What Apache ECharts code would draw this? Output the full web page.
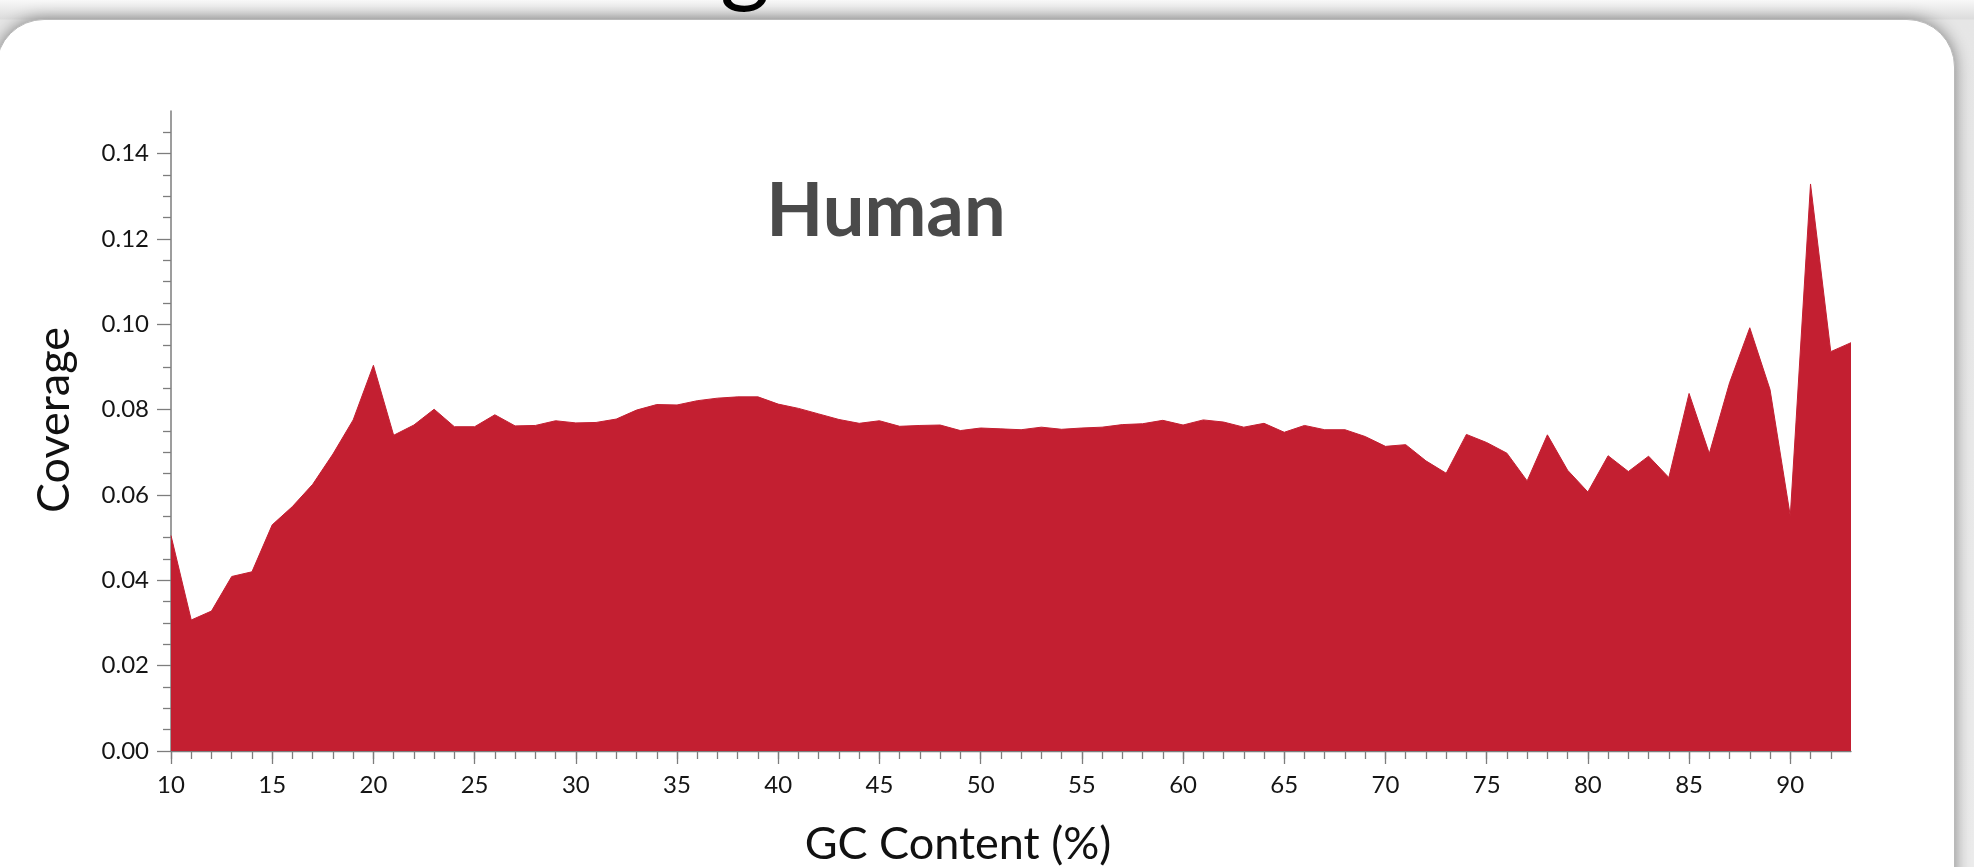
<!DOCTYPE html>
<html>
<head>
<meta charset="utf-8">
<title>Human GC coverage</title>
<script src="https://cdn.jsdelivr.net/npm/echarts@6/dist/echarts.min.js"></script>
<style>
    html, body { margin: 0; padding: 0; width: 1974px; height: 867px; overflow: hidden; }
    body { background: linear-gradient(#f8f8f8, #dcdcdc 19px, #e6e6e6 20px, #ececec); position: relative; }
    #card {
        position: absolute; left: -4px; top: 19px; width: 1957px; height: 900px;
        background: #fff; border: 1px solid #b9b9b9; border-radius: 48px;
        box-shadow: 0 0 16px rgba(0, 0, 0, 0.45);
    }
    #main { position: absolute; left: 0; top: 0; width: 1974px; height: 867px; }
</style>
</head>
<body>
<div id="card"></div>
<div id="main"></div>
<script>
    // GC content (%) on x, normalised coverage on y
    const gcPercent = [
        10, 11, 12, 13, 14, 15, 16, 17, 18, 19,
        20, 21, 22, 23, 24, 25, 26, 27, 28, 29,
        30, 31, 32, 33, 34, 35, 36, 37, 38, 39,
        40, 41, 42, 43, 44, 45, 46, 47, 48, 49,
        50, 51, 52, 53, 54, 55, 56, 57, 58, 59,
        60, 61, 62, 63, 64, 65, 66, 67, 68, 69,
        70, 71, 72, 73, 74, 75, 76, 77, 78, 79,
        80, 81, 82, 83, 84, 85, 86, 87, 88, 89,
        90, 91, 92, 93
    ];
    const coverage = [
        0.0505, 0.0307, 0.0328, 0.0409, 0.0420, 0.0530, 0.0573, 0.0625, 0.0696, 0.0776,
        0.0904, 0.0740, 0.0764, 0.0801, 0.0760, 0.0760, 0.0788, 0.0762, 0.0763, 0.0774,
        0.0769, 0.0770, 0.0778, 0.0799, 0.0812, 0.0811, 0.0821, 0.0827, 0.0830, 0.0830,
        0.0813, 0.0803, 0.0790, 0.0777, 0.0768, 0.0774, 0.0761, 0.0763, 0.0764, 0.0751,
        0.0757, 0.0755, 0.0753, 0.0759, 0.0754, 0.0757, 0.0759, 0.0765, 0.0767, 0.0775,
        0.0764, 0.0776, 0.0771, 0.0759, 0.0768, 0.0747, 0.0763, 0.0753, 0.0753, 0.0737,
        0.0714, 0.0718, 0.0680, 0.0651, 0.0742, 0.0723, 0.0698, 0.0633, 0.0741, 0.0658,
        0.0607, 0.0692, 0.0655, 0.0691, 0.0641, 0.0838, 0.0697, 0.0863, 0.0992, 0.0847,
        0.0551, 0.1329, 0.0936, 0.0957
    ];

    const xMajorTicks = [10, 15, 20, 25, 30, 35, 40, 45, 50, 55, 60, 65, 70, 75, 80, 85, 90];
    const xMinorTicks = [
        10, 11, 12, 13, 14, 15, 16, 17, 18, 19, 20, 21, 22, 23, 24, 25, 26, 27, 28, 29,
        30, 31, 32, 33, 34, 35, 36, 37, 38, 39, 40, 41, 42, 43, 44, 45, 46, 47, 48, 49,
        50, 51, 52, 53, 54, 55, 56, 57, 58, 59, 60, 61, 62, 63, 64, 65, 66, 67, 68, 69,
        70, 71, 72, 73, 74, 75, 76, 77, 78, 79, 80, 81, 82, 83, 84, 85, 86, 87, 88, 89,
        90, 91, 92
    ];
    const yMajorTicks = [0, 0.02, 0.04, 0.06, 0.08, 0.10, 0.12, 0.14];
    const yMinorTicks = [
        0.005, 0.01, 0.015, 0.025, 0.03, 0.035, 0.045, 0.05, 0.055, 0.065, 0.07, 0.075,
        0.085, 0.09, 0.095, 0.105, 0.11, 0.115, 0.125, 0.13, 0.135, 0.145
    ];

    const axisGrey = '#7d7d7d';
    const red = '#c31f31';
    const labelFont = { fontFamily: 'Lato', fontSize: 24, color: '#151515' };

    const chart = echarts.init(document.getElementById('main'), null, { renderer: 'canvas' });

    const option = {
        backgroundColor: 'transparent',
        animation: false,
        grid: { left: 171, right: 123, top: 111, bottom: 116 },
        xAxis: [
            {
                type: 'value', min: 10, max: 93, position: 'bottom',
                axisLine: { show: true, lineStyle: { color: axisGrey, width: 1.3 } },
                axisTick: { show: true, customValues: xMinorTicks, length: 8, lineStyle: { color: axisGrey, width: 1.3 } },
                axisLabel: { show: false },
                splitLine: { show: false }
            },
            {
                type: 'value', min: 10, max: 93, position: 'bottom',
                axisLine: { show: false },
                axisTick: { show: true, customValues: xMajorTicks, length: 13, lineStyle: { color: axisGrey, width: 1.3 } },
                axisLabel: { show: true, customValues: xMajorTicks, margin: 22, ...labelFont },
                splitLine: { show: false }
            }
        ],
        yAxis: [
            {
                type: 'value', min: 0, max: 0.15, position: 'left',
                axisLine: { show: true, lineStyle: { color: axisGrey, width: 1.5 } },
                axisTick: { show: true, customValues: yMinorTicks, length: 8, lineStyle: { color: axisGrey, width: 1.3 } },
                axisLabel: { show: false },
                splitLine: { show: false }
            },
            {
                type: 'value', min: 0, max: 0.15, position: 'left',
                axisLine: { show: false },
                axisTick: { show: true, customValues: yMajorTicks, length: 14, lineStyle: { color: axisGrey, width: 1.3 } },
                axisLabel: {
                    show: true, customValues: yMajorTicks, margin: 22, ...labelFont,
                    formatter: v => v.toFixed(2)
                },
                splitLine: { show: false }
            }
        ],
        graphic: [
            {
                type: 'text', x: 886, y: 212,
                style: {
                    text: 'Human', fontFamily: 'Lato', fontWeight: 'bold', fontSize: 74,
                    fill: '#4a4a4a', align: 'center', verticalAlign: 'middle'
                }
            },
            {
                type: 'text', x: 54, y: 420, rotation: Math.PI / 2,
                style: {
                    text: 'Coverage', fontFamily: 'Lato', fontSize: 45,
                    fill: '#111', align: 'center', verticalAlign: 'middle'
                }
            },
            {
                type: 'text', x: 958, y: 844,
                style: {
                    text: 'GC Content (%)', fontFamily: 'Lato', fontSize: 45,
                    fill: '#111', align: 'center', verticalAlign: 'middle'
                }
            },
            {
                // bottom of the page heading, cut off by the window
                type: 'text', x: 745, y: -37,
                style: {
                    text: 'g', fontFamily: 'Lato', fontSize: 96,
                    fill: '#000', align: 'center', verticalAlign: 'middle'
                }
            }
        ],
        series: [
            {
                name: 'Human',
                type: 'line',
                xAxisIndex: 0,
                yAxisIndex: 0,
                data: gcPercent.map((gc, i) => [gc, coverage[i]]),
                showSymbol: false,
                symbol: 'none',
                lineStyle: { color: red, width: 1 },
                areaStyle: { color: red, opacity: 1 },
                z: 1
            }
        ]
    };
    chart.setOption(option);
</script>
</body>
</html>
